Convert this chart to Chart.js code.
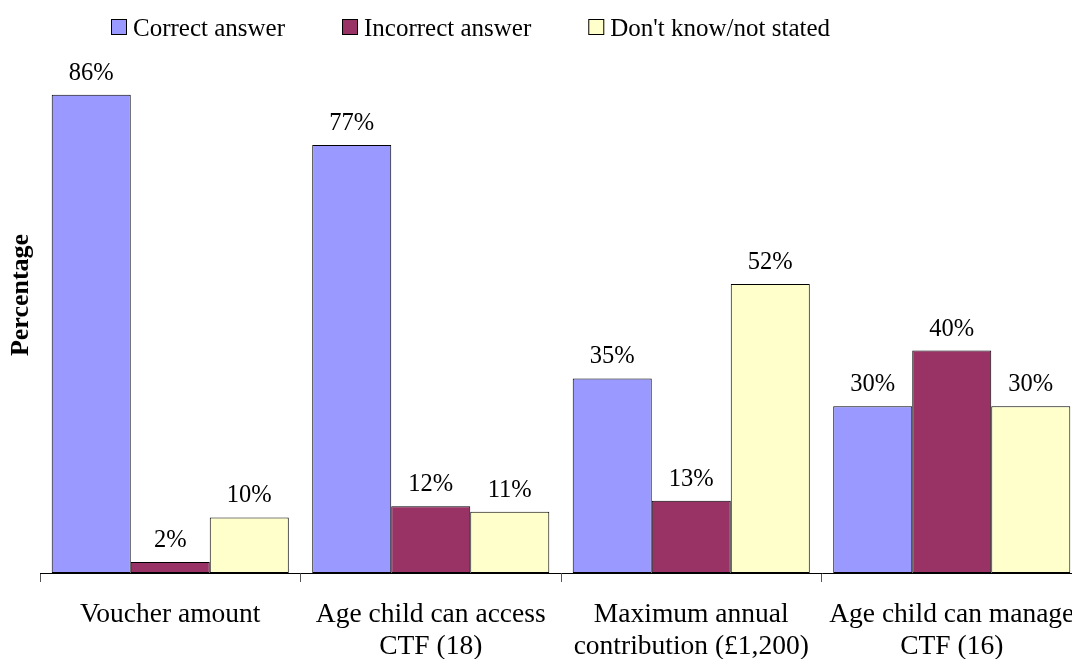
<!DOCTYPE html>
<html><head><meta charset="utf-8">
<script src="https://cdn.jsdelivr.net/npm/chart.js@4.4.1/dist/chart.umd.min.js"></script>
<style>html,body{margin:0;padding:0;overflow:hidden;background:#fff}#wrap{position:relative;width:1110px;height:659px}</style>
</head><body><div id="wrap"><canvas id="c"></canvas></div>
<script>
const categories = [["Voucher amount"], ["Age child can access", "CTF (18)"], ["Maximum annual", "contribution (£1,200)"], ["Age child can manage", "CTF (16)"]];
const seriesNames = ["Correct answer", "Incorrect answer", "Don't know/not stated"];
const correctAnswer = [86, 77, 35, 30];
const incorrectAnswer = [2, 12, 13, 40];
const dontKnow = [10, 11, 52, 30];
const seriesColors = ["#9999FF", "#993366", "#FFFFCC"];
const FONT = "'Liberation Serif', 'Times New Roman', serif";

const dataLabels = {
  id: 'dataLabels',
  afterDatasetsDraw(chart) {
    const ctx = chart.ctx;
    ctx.save();
    ctx.font = "24.5px " + FONT;
    ctx.fillStyle = '#000';
    ctx.textAlign = 'center';
    ctx.textBaseline = 'alphabetic';
    chart.data.datasets.forEach((ds, i) => {
      chart.getDatasetMeta(i).data.forEach((el, j) => {
        ctx.fillText(ds.data[j] + '%', el.x, el.y - 15);
      });
    });
    ctx.restore();
  }
};

const customLegend = {
  id: 'customLegend',
  afterDraw(chart) {
    const ctx = chart.ctx;
    ctx.save();
    ctx.font = "25px " + FONT;
    ctx.textBaseline = 'alphabetic';
    ctx.textAlign = 'left';
    let x = 111;
    const boxY = 19, box = 16;
    chart.data.datasets.forEach(ds => {
      ctx.fillStyle = ds.backgroundColor;
      ctx.fillRect(x, boxY, box, box);
      ctx.strokeStyle = '#000';
      ctx.lineWidth = 1;
      ctx.strokeRect(x + 0.5, boxY + 0.5, box - 1, box - 1);
      ctx.fillStyle = '#000';
      ctx.fillText(ds.label, x + box + 6, 36);
      x += box + 6 + ctx.measureText(ds.label).width + 57;
    });
    ctx.restore();
  }
};

new Chart(document.getElementById('c'), {
  type: 'bar',
  data: {
    labels: categories,
    datasets: [correctAnswer, incorrectAnswer, dontKnow].map((d, i) => ({
      label: seriesNames[i],
      data: d,
      backgroundColor: seriesColors[i],
      borderColor: '#000',
      borderWidth: 1,
      borderSkipped: false,
      barPercentage: 1.0,
      categoryPercentage: 0.91
    }))
  },
  options: {
    responsive: true,
    maintainAspectRatio: false,
    animation: false,
    layout: { padding: { top: 17, right: 28, left: 0, bottom: 0 } },
    plugins: { legend: { display: false }, tooltip: { enabled: false } },
    scales: {
      x: {
        grid: { display: true, drawOnChartArea: false, drawTicks: true, tickLength: 9, offset: true, color: '#555' },
        border: { display: true, color: '#000', width: 1 },
        ticks: { color: '#000', font: { family: FONT, size: 27.5, lineHeight: 1.17 }, padding: 17, maxRotation: 0, autoSkip: false },
        afterFit(s) { s.height = 86; }
      },
      y: {
        min: 0, max: 100,
        grid: { display: false },
        border: { display: false },
        ticks: { display: false },
        title: { display: true, text: 'Percentage', color: '#000', font: { family: FONT, size: 26, weight: 'bold' }, padding: { top: 6, bottom: 0 } },
        afterFit(s) { s.width = 40; }
      }
    }
  },
  plugins: [dataLabels, customLegend]
});
</script>
</body></html>
